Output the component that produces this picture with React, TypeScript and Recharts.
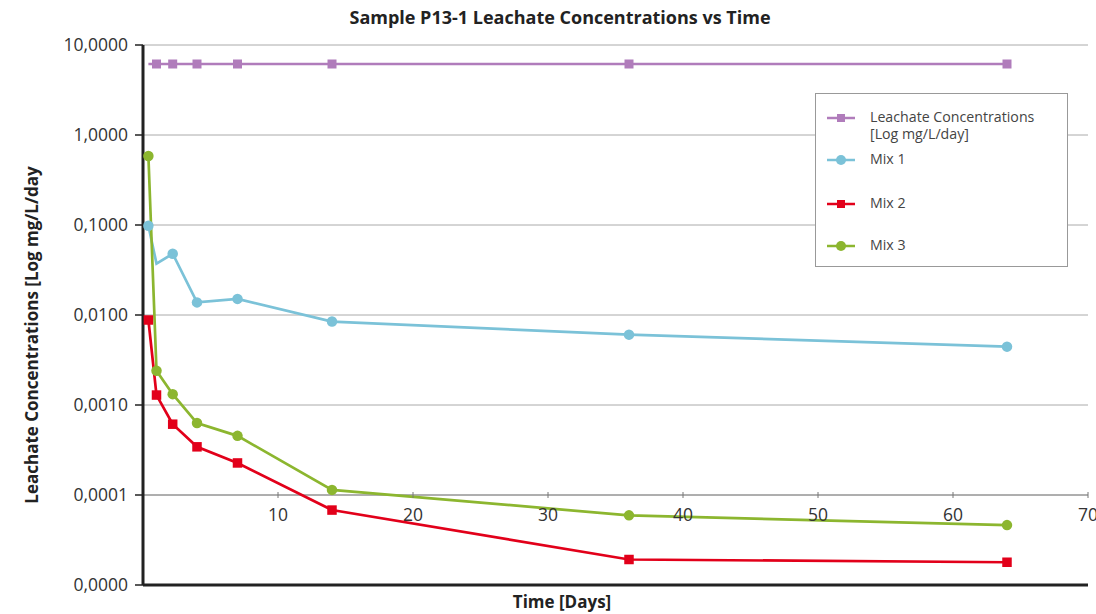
import { LineChart, Line, XAxis, YAxis, CartesianGrid, ReferenceLine, Legend } from 'recharts'

const DAYS = [0.4, 1, 2.2, 4, 7, 14, 36, 64]
const LEACHATE = [6.15, 6.15, 6.15, 6.15, 6.15, 6.15, 6.15, 6.15]
const MIX_1 = [0.098, 0.0373, 0.0479, 0.0138, 0.0151, 0.00845, 0.00605, 0.00445]
const MIX_2 = [0.0088, 0.00129, 0.000612, 0.000343, 0.000227, 0.000068, 0.0000192, 0.0000179]
const MIX_3 = [0.585, 0.0024, 0.00132, 0.00063, 0.000454, 0.000114, 0.0000594, 0.0000463]

const Y_TICKS = [0.00001, 0.0001, 0.001, 0.01, 0.1, 1, 10]
const X_TICKS = [10, 20, 30, 40, 50, 60, 70]

const data = DAYS.map((day, i) => ({
  day,
  leachate: LEACHATE[i],
  mix1: MIX_1[i],
  mix2: MIX_2[i],
  mix3: MIX_3[i],
}))

const W = 1096
const H = 614
const X_AXIS_H = 29
const MARGIN = { top: 45, right: 8, bottom: 0, left: 0 }
const Y_MIN = 0.00001
const Y_MAX = 10
const X_AXIS_LEVEL = 0.0001
const PLOT_H = H - MARGIN.top - MARGIN.bottom - X_AXIS_H
const X_AXIS_Y =
  MARGIN.top +
  (PLOT_H * (Math.log10(Y_MAX) - Math.log10(X_AXIS_LEVEL))) / (Math.log10(Y_MAX) - Math.log10(Y_MIN))

const FONT = '"Open Sans", "Noto Sans", sans-serif'

const PURPLE = '#b07cbb'
const BLUE = '#7bc2d8'
const RED = '#e2001a'
const GREEN = '#8cb62f'

const SERIES = [
  { key: 'leachate', name: 'Leachate Concentrations [Log mg/L/day]', color: PURPLE, shape: 'square', size: 9, hide: [0] },
  { key: 'mix1', name: 'Mix 1', color: BLUE, shape: 'circle', size: 10.5, hide: [1] },
  { key: 'mix2', name: 'Mix 2', color: RED, shape: 'square', size: 9.5, hide: [] as number[] },
  { key: 'mix3', name: 'Mix 3', color: GREEN, shape: 'circle', size: 10.5, hide: [] as number[] },
]

function makeDot(s: (typeof SERIES)[number]) {
  return (props: any) => {
    const { cx, cy, index } = props
    if (s.hide.includes(index) || cx == null || cy == null) return <g key={`${s.key}-${index}`} />
    if (s.shape === 'square') {
      return (
        <rect
          key={`${s.key}-${index}`}
          x={cx - s.size / 2}
          y={cy - s.size / 2}
          width={s.size}
          height={s.size}
          fill={s.color}
        />
      )
    }
    return <circle key={`${s.key}-${index}`} cx={cx} cy={cy} r={s.size / 2} fill={s.color} />
  }
}

// x ticks sit on the 0,0001 line, not at the bottom of the plot
const XTick = (props: any) => {
  const { x, payload } = props
  return (
    <g>
      <line x1={x} x2={x} y1={X_AXIS_Y - 3} y2={X_AXIS_Y + 3} stroke="#777" strokeWidth={1} />
      <text x={x} y={X_AXIS_Y + 26} textAnchor="middle" fill="#333" fontSize={17.5} fontFamily={FONT}>
        {payload.value}
      </text>
    </g>
  )
}

const LEGEND_ROWS = [24, 66, 110, 152]

const LegendBox = () => (
  <div
    style={{
      width: 253,
      height: 174,
      boxSizing: 'border-box',
      border: '1px solid #999',
      background: '#fff',
      position: 'relative',
      fontFamily: FONT,
      fontSize: 14.2,
      color: '#444',
    }}
  >
    {SERIES.map((s, i) => (
      <div key={s.key}>
        <svg style={{ position: 'absolute', left: 11, top: LEGEND_ROWS[i] - 6 }} width={28} height={12}>
          <line x1={0} x2={28} y1={6} y2={6} stroke={s.color} strokeWidth={2.5} />
          {s.shape === 'square' ? (
            <rect x={10} y={2} width={8} height={8} fill={s.color} />
          ) : (
            <circle cx={14} cy={6} r={5} fill={s.color} />
          )}
        </svg>
        <div
          style={{
            position: 'absolute',
            left: 54,
            top: LEGEND_ROWS[i] - 9,
            width: 195,
            lineHeight: '16.5px',
          }}
        >
          {s.key === 'leachate' ? (
            <>
              Leachate Concentrations
              <br />
              [Log mg/L/day]
            </>
          ) : (
            s.name
          )}
        </div>
      </div>
    ))}
  </div>
)

export default function App() {
  return (
    <div style={{ position: 'absolute', left: 0, top: 0, width: W, height: H, background: '#fff' }}>
      <div
        style={{
          position: 'absolute',
          left: 560,
          top: 17,
          transform: 'translate(-50%, -50%)',
          whiteSpace: 'nowrap',
          fontFamily: FONT,
          fontWeight: 700,
          fontSize: 18,
          color: '#222',
        }}
      >
        Sample P13-1 Leachate Concentrations vs Time
      </div>
      <div
        style={{
          position: 'absolute',
          left: 31,
          top: 335,
          transform: 'translate(-50%, -50%) rotate(-90deg)',
          whiteSpace: 'nowrap',
          fontFamily: FONT,
          fontWeight: 700,
          fontSize: 17,
          color: '#222',
        }}
      >
        Leachate Concentrations [Log mg/L/day
      </div>
      <div
        style={{
          position: 'absolute',
          left: 562,
          top: 601,
          transform: 'translate(-50%, -50%)',
          whiteSpace: 'nowrap',
          fontFamily: FONT,
          fontWeight: 700,
          fontSize: 17,
          color: '#222',
        }}
      >
        Time [Days]
      </div>
      <LineChart width={W} height={H} data={data} margin={MARGIN}>
        <CartesianGrid horizontal vertical={false} stroke="#aaa" strokeWidth={1} />
        <XAxis
          dataKey="day"
          type="number"
          domain={[0, 70]}
          ticks={X_TICKS}
          height={X_AXIS_H}
          axisLine={false}
          tickLine={false}
          tick={XTick}
          interval={0}
        />
        <YAxis
          scale="log"
          domain={[Y_MIN, Y_MAX]}
          ticks={Y_TICKS}
          allowDataOverflow
          width={143}
          interval={0}
          axisLine={{ stroke: '#222', strokeWidth: 3 }}
          tickLine={{ stroke: '#222', strokeWidth: 1.5 }}
          tickSize={8}
          tickMargin={7}
          tick={{ fill: '#333', fontSize: 17.5, fontFamily: FONT }}
          tickFormatter={(v: number) => v.toFixed(4).replace('.', ',')}
        />
        <ReferenceLine y={X_AXIS_LEVEL} stroke="#888" strokeWidth={1} />
        <ReferenceLine y={Y_MIN} stroke="#222" strokeWidth={3} />
        <Legend
          layout="horizontal"
          verticalAlign="middle"
          align="center"
          content={<LegendBox />}
          wrapperStyle={{ position: 'absolute', left: 815, top: 93, width: 253, height: 174 }}
        />
        {SERIES.map((s) => (
          <Line
            key={s.key}
            dataKey={s.key}
            name={s.name}
            type="linear"
            stroke={s.color}
            strokeWidth={2.7}
            dot={makeDot(s)}
            activeDot={false}
            isAnimationActive={false}
          />
        ))}
      </LineChart>
    </div>
  )
}
